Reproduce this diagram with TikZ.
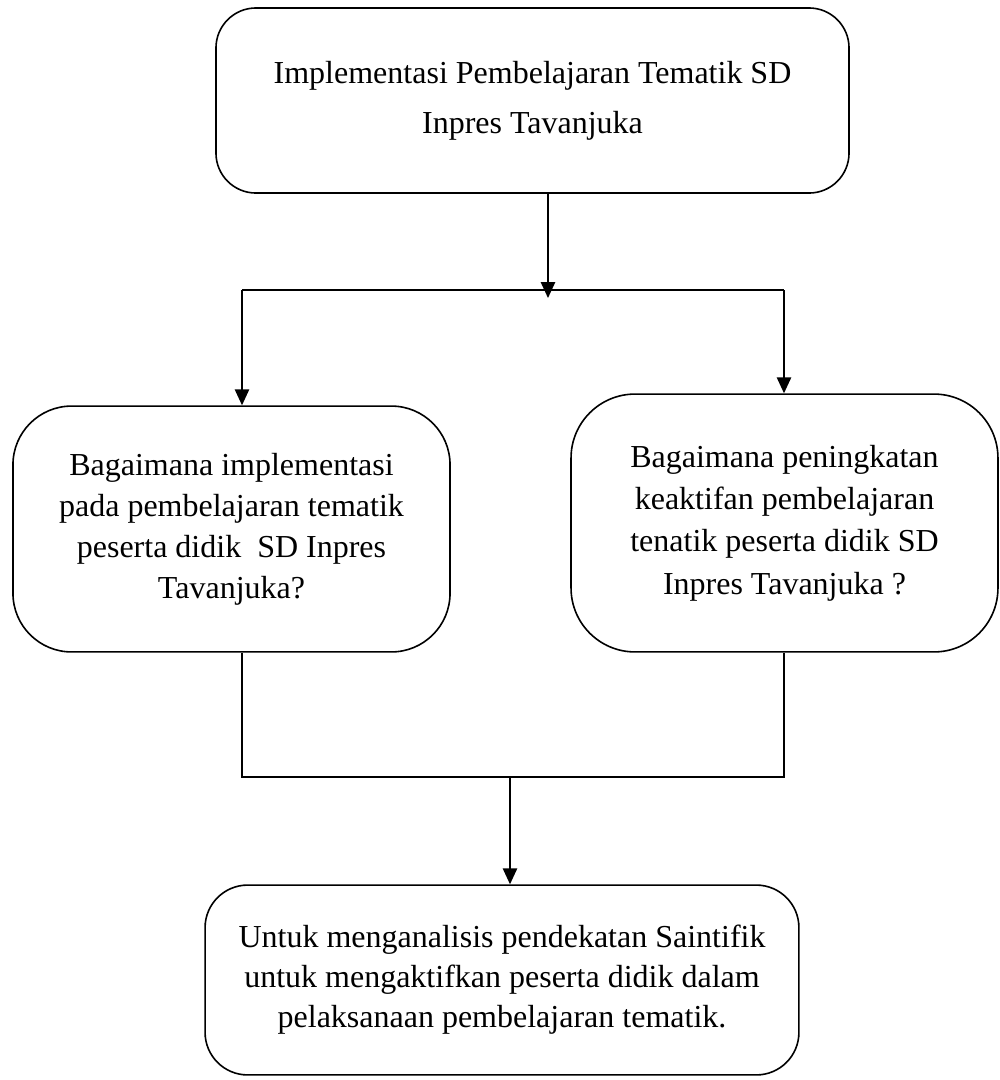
\documentclass[tikz,border=0pt]{standalone}
\usepackage{fontspec}
\setmainfont{Liberation Serif}
\usetikzlibrary{arrows.meta}

\begin{document}
\begin{tikzpicture}[x=0.375pt,y=-0.375pt,>={Triangle[length=6pt,width=5.4pt]},line width=0.6pt,line cap=butt,
  rbox/.style={draw,rounded corners=#1,align=center,inner sep=0pt}]
\useasboundingbox (0,0) rectangle (1000,1080);
% boxes
\node[rbox=15pt,minimum width=237.4pt,minimum height=69.4pt,font=\fontsize{12}{18.75}\selectfont] (top) at (532.5,100.5) {Implementasi Pembelajaran Tematik SD\\Inpres Tavanjuka};
\node[rbox=22pt,minimum width=163.9pt,minimum height=92.2pt,font=\fontsize{12}{15.4}\selectfont] (left) at (231.5,529) {Bagaimana implementasi\\pada pembelajaran tematik\\peserta didik~ SD Inpres\\Tavanjuka?};
\node[rbox=24pt,minimum width=160.1pt,minimum height=96.7pt,font=\fontsize{12}{15.9}\selectfont] (right) at (784.5,523) {Bagaimana peningkatan\\keaktifan pembelajaran\\tenatik peserta didik SD\\Inpres Tavanjuka ?};
\node[rbox=16pt,minimum width=222.7pt,minimum height=71.2pt,font=\fontsize{12}{15}\selectfont] (bottom) at (502,980) {Untuk menganalisis pendekatan Saintifik\\untuk mengaktifkan peserta didik dalam\\pelaksanaan pembelajaran tematik.};
% junctions
\coordinate (jt) at (548,298); \coordinate (bar) at (0,290);
\coordinate (lx) at (242,0); \coordinate (rx) at (784,0);
\coordinate (jb) at (510,777);
% connectors
\draw[->] (top.south -| jt) -- (jt);
\draw (lx |- bar) -- (rx |- bar);
\draw[->] (lx |- bar) -- (lx |- left.north);
\draw[->] (rx |- bar) -- (rx |- right.north);
\draw (lx |- left.south) |- (jb) -| (rx |- right.south);
\draw[->] (jb) -- (jb |- bottom.north);
\end{tikzpicture}
\end{document}
